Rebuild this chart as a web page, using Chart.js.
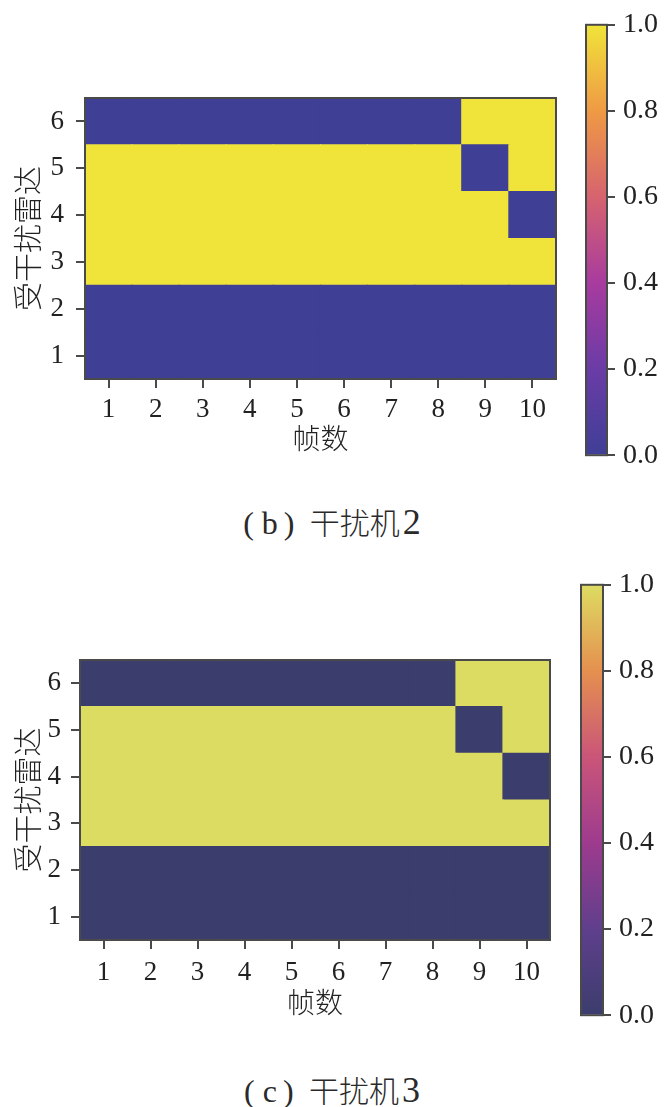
<!DOCTYPE html>
<html><head><meta charset="utf-8">
<script src="https://cdn.jsdelivr.net/npm/chart.js@4.4.1/dist/chart.umd.min.js"></script>
<style>
html,body{margin:0;padding:0;background:#fff;}
body{width:668px;height:1107px;position:relative;overflow:hidden;}
canvas{position:absolute;}
.cap{position:absolute;left:0;width:664px;text-align:center;font-family:"Noto Sans CJK SC",sans-serif;font-size:30px;color:#2a2a2a;line-height:36px;font-weight:300;white-space:nowrap;}
.cap .p{font-family:"Liberation Serif","Noto Sans CJK SC",serif;font-size:32px;letter-spacing:2px;}
.cap .b{font-family:"Liberation Serif",serif;font-size:32px;padding:0 6px;}
.cap .n{font-family:"Liberation Serif",serif;font-size:36px;padding-left:3px;}
</style></head>
<body>
<canvas id="heatB"></canvas>
<canvas id="barB"></canvas>
<div class="cap" style="top:503px"><span class="p">(</span><span class="b">b</span><span class="p">)</span>&nbsp;&nbsp;干扰机<span class="n">2</span></div>
<canvas id="heatC"></canvas>
<canvas id="barC"></canvas>
<div class="cap" style="top:1071px"><span class="p">(</span><span class="b">c</span><span class="p">)</span>&nbsp;&nbsp;干扰机<span class="n">3</span></div>
<script>
// ---- data ----
const frames = [1, 2, 3, 4, 5, 6, 7, 8, 9, 10];
const radars = [1, 2, 3, 4, 5, 6];
// rows: radar 1 .. 6, columns: frame 1 .. 10
const jammer2 = [
  [0, 0, 0, 0, 0, 0, 0, 0, 0, 0],
  [0, 0, 0, 0, 0, 0, 0, 0, 0, 0],
  [1, 1, 1, 1, 1, 1, 1, 1, 1, 1],
  [1, 1, 1, 1, 1, 1, 1, 1, 1, 0],
  [1, 1, 1, 1, 1, 1, 1, 1, 0, 1],
  [0, 0, 0, 0, 0, 0, 0, 0, 1, 1]
];
const jammer3 = [
  [0, 0, 0, 0, 0, 0, 0, 0, 0, 0],
  [0, 0, 0, 0, 0, 0, 0, 0, 0, 0],
  [1, 1, 1, 1, 1, 1, 1, 1, 1, 1],
  [1, 1, 1, 1, 1, 1, 1, 1, 1, 0],
  [1, 1, 1, 1, 1, 1, 1, 1, 0, 1],
  [0, 0, 0, 0, 0, 0, 0, 0, 1, 1]
];
const colorbarTicks = [0.0, 0.2, 0.4, 0.6, 0.8, 1.0];
const xTitle = '帧数';
const yTitle = '受干扰雷达';

// ---- styles ----
const paletteB = ['#3f3f96', '#6a3ca6', '#a83b9f', '#d6636f', '#ef9a44', '#f0e43a'];
const paletteC = ['#3b3d6d', '#5f3f8c', '#9d3b8e', '#ca5579', '#e5904f', '#dddc62'];
const SERIF = '"Liberation Serif", "Times New Roman", serif';
const CJK = '"Noto Sans CJK SC", sans-serif';
const AXIS = '#4a4a4a';
Chart.defaults.color = '#222';
Chart.defaults.animation = false;

const framePlugin = {
  id: 'frame',
  afterDatasetsDraw(chart) {
    const a = chart.chartArea, c = chart.ctx;
    c.save();
    c.strokeStyle = AXIS;
    c.lineWidth = 2;
    c.strokeRect(a.left, a.top, a.right - a.left, a.bottom - a.top);
    c.restore();
  }
};

function place(id, left, top, w, h) {
  const cv = document.getElementById(id);
  cv.width = w; cv.height = h;
  cv.style.left = left + 'px'; cv.style.top = top + 'px';
  cv.style.width = w + 'px'; cv.style.height = h + 'px';
  return cv;
}

function makeHeat(id, matrix, palette, g) {
  const cv = place(id, g.left, g.top, g.w, g.h);
  const lo = palette[0], hi = palette[palette.length - 1];
  const datasets = radars.map((r, i) => ({
    data: frames.map(() => [r - 0.5, r + 0.5]),
    backgroundColor: matrix[i].map(v => v ? hi : lo),
    borderWidth: 0,
    grouped: false,
    barPercentage: 1,
    categoryPercentage: 1,
    inflateAmount: 0.6
  }));
  new Chart(cv, {
    type: 'bar',
    data: { labels: frames.map(String), datasets },
    options: {
      responsive: false,
      devicePixelRatio: 1,
      layout: { padding: { left: 0, top: g.padTop, right: g.padRight, bottom: 0 } },
      plugins: { legend: { display: false }, tooltip: { enabled: false } },
      scales: {
        x: {
          type: 'category',
          offset: true,
          grid: { display: true, drawOnChartArea: false, drawTicks: true, tickLength: 9, offset: false, color: AXIS, lineWidth: 2 },
          border: { display: false },
          ticks: { font: { family: SERIF, size: 27 }, padding: g.xTickPad, maxRotation: 0, autoSkip: false },
          title: { display: true, text: xTitle, font: { family: CJK, size: 28, lineHeight: 1, weight: 300 }, padding: { top: 0, bottom: g.xTitlePad } },
          afterFit(s) { s.height = g.xAxisH; }
        },
        y: {
          type: 'linear',
          min: 0.5, max: 6.5,
          afterBuildTicks(s) { s.ticks = radars.map(v => ({ value: v })); },
          grid: { display: true, drawOnChartArea: false, drawTicks: true, tickLength: 9, color: AXIS, lineWidth: 2 },
          border: { display: false },
          ticks: { font: { family: SERIF, size: 27 }, padding: g.yTickPad },
          title: { display: true, text: yTitle, font: { family: CJK, size: 29, lineHeight: 1, weight: 300 }, padding: { top: g.yTitlePad, bottom: 0 } },
          afterFit(s) { s.width = g.yAxisW; }
        }
      }
    },
    plugins: [framePlugin]
  });
}

function makeBar(id, palette, g) {
  const cv = place(id, g.left, g.top, g.w, g.h);
  new Chart(cv, {
    type: 'bar',
    data: {
      labels: [''],
      datasets: [{
        data: [[colorbarTicks[0], colorbarTicks[colorbarTicks.length - 1]]],
        backgroundColor(ctx) {
          const a = ctx.chart.chartArea;
          if (!a) return palette[0];
          const gr = ctx.chart.ctx.createLinearGradient(0, a.bottom, 0, a.top);
          palette.forEach((c, i) => gr.addColorStop(i / (palette.length - 1), c));
          return gr;
        },
        borderWidth: 0,
        barPercentage: 1,
        categoryPercentage: 1
      }]
    },
    options: {
      responsive: false,
      devicePixelRatio: 1,
      layout: { padding: { left: g.padLeft, top: g.padTop, right: 0, bottom: g.padBottom } },
      plugins: { legend: { display: false }, tooltip: { enabled: false } },
      scales: {
        x: { display: false },
        y: {
          position: 'right',
          min: 0, max: 1,
          afterBuildTicks(s) { s.ticks = colorbarTicks.map(v => ({ value: v })); },
          grid: { display: true, drawOnChartArea: false, drawTicks: true, tickLength: 8, color: AXIS, lineWidth: 2 },
          border: { display: false },
          ticks: { font: { family: SERIF, size: 28 }, padding: 8, callback: v => Number(v).toFixed(1) },
          afterFit(s) { s.width = g.axisW; }
        }
      }
    },
    plugins: [framePlugin]
  });
}

makeHeat('heatB', jammer2, paletteB, { left: 0, top: 0, w: 580, h: 470, padTop: 98, padRight: 24, xAxisH: 91, yAxisW: 85, xTickPad: 6, xTitlePad: 18, yTickPad: 12, yTitlePad: 13 });
makeBar('barB', paletteB, { left: 560, top: 0, w: 108, h: 480, padLeft: 26, padTop: 21, padBottom: 23, axisW: 61 });
makeHeat('heatC', jammer3, paletteC, { left: 0, top: 560, w: 580, h: 470, padTop: 100, padRight: 30, xAxisH: 90, yAxisW: 80, xTickPad: 8, xTitlePad: 14, yTickPad: 10, yTitlePad: 13 });
makeBar('barC', paletteC, { left: 560, top: 560, w: 108, h: 480, padLeft: 21, padTop: 22, padBottom: 24, axisW: 65 });
</script>
</body></html>
